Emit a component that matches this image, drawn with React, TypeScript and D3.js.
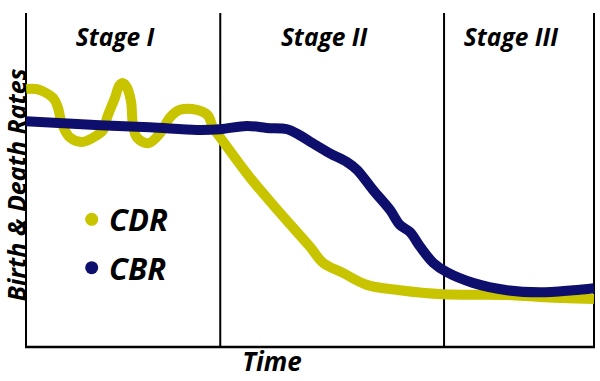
import React from "react";
import * as d3 from "d3";

// Time in arbitrary units 0..100, rates in arbitrary units 0..50
const cdrTime = [0, 1.9, 4.75, 5.6, 6.3, 7.7, 9.9, 12.5, 13.6, 14.3, 15.7, 16.4, 17.1, 17.8, 18.5, 18.8, 19.5, 21.5, 23.6, 25.4, 27.1, 30.1, 32.0, 32.9, 34.5, 39.4, 44.7, 50.0, 52.3, 55.8, 60.0, 65.8, 73.4, 84.7, 90.5, 100];
const cdrRate = [38.6, 38.6, 37.3, 35.9, 33.5, 31.4, 30.7, 31.7, 32.5, 34.4, 37.4, 39.1, 39.5, 38.8, 36.7, 33.5, 31.4, 30.5, 32.0, 34.4, 35.5, 35.5, 34.7, 32.9, 31.0, 25.4, 20.1, 15.0, 12.6, 11.1, 9.3, 8.5, 7.9, 7.8, 7.5, 7.2];

const cbrTime = [0, 13.0, 21.8, 30.1, 34.2, 38.9, 42.4, 46.0, 48.2, 50.5, 53.5, 56.5, 58.3, 61.1, 64.1, 65.8, 67.6, 69.4, 71.7, 74.1, 78.7, 84.7, 90.5, 96.3, 100];
const cbrRate = [33.8, 33.2, 32.9, 32.5, 32.6, 33.1, 32.8, 32.6, 31.7, 30.5, 29.0, 27.7, 26.5, 23.5, 20.5, 18.3, 17.2, 15.0, 12.6, 11.2, 9.6, 8.5, 8.2, 8.5, 8.8];

const stageBounds = [0, 34.2, 73.6, 100];
const stageLabels = ["Stage I", "Stage II", "Stage III"];
const legendLabels = ["CDR", "CBR"];

const W = 600;
const H = 381;
const YELLOW = "#c8c500";
const NAVY = "#0e0f6c";
const FONT = "'Open Sans', sans-serif";

export default function App() {
  const x = d3.scaleLinear().domain([0, 100]).range([26, 594]);
  const y = d3.scaleLinear().domain([0, 50]).range([347, 13]);

  const line = d3
    .line<[number, number]>()
    .x((d) => x(d[0]))
    .y((d) => y(d[1]))
    .curve(d3.curveCatmullRom.alpha(0.5));

  const cdr = cdrTime.map((t, i) => [t, cdrRate[i]] as [number, number]);
  const cbr = cbrTime.map((t, i) => [t, cbrRate[i]] as [number, number]);

  const top = y(50);
  const bottom = y(0);

  return (
    <svg
      width={W}
      height={H}
      style={{ position: "absolute", left: 0, top: 0, background: "#fff" }}
      fontFamily={FONT}
    >
      <rect x={0} y={0} width={W} height={H} fill="#fff" />
      {/* stage separators and frame */}
      {stageBounds.map((b, i) => (
        <line key={"s" + i} x1={x(b)} x2={x(b)} y1={top} y2={bottom} stroke="#000" strokeWidth={2} />
      ))}
      <line x1={x(0) - 1} x2={x(100) + 1} y1={bottom} y2={bottom} stroke="#000" strokeWidth={2.5} />

      {/* stage labels */}
      {stageLabels.map((s, i) => (
        <text
          key={s}
          x={(x(stageBounds[i]) + x(stageBounds[i + 1])) / 2 - 8}
          y={46}
          textAnchor="middle"
          fontSize={24.5}
          fontWeight={700}
          fontStyle="italic"
          fill="#000"
        >
          {s}
        </text>
      ))}

      {/* lines */}
      <path d={line(cdr) || ""} fill="none" stroke={YELLOW} strokeWidth={10} strokeLinejoin="round" strokeLinecap="butt" />
      <path d={line(cbr) || ""} fill="none" stroke={NAVY} strokeWidth={10} strokeLinejoin="round" strokeLinecap="butt" />

      {/* legend */}
      {legendLabels.map((l, i) => (
        <g key={l}>
          <circle cx={91.7} cy={219.3 + i * 48.4} r={6.5} fill={i === 0 ? YELLOW : NAVY} />
          <text x={109} y={230.5 + i * 49.5} fontSize={31} fontWeight={700} fontStyle="italic" fill="#000">
            {l}
          </text>
        </g>
      ))}

      {/* axis titles */}
      <text x={272} y={371} textAnchor="middle" fontSize={26} fontWeight={700} fontStyle="italic" fill="#000">
        Time
      </text>
      <text
        transform={`translate(25.5,185) rotate(-90)`}
        textAnchor="middle"
        fontSize={25}
        fontWeight={700}
        fontStyle="italic"
        fill="#000"
      >
        Birth &amp; Death Rates
      </text>
    </svg>
  );
}
